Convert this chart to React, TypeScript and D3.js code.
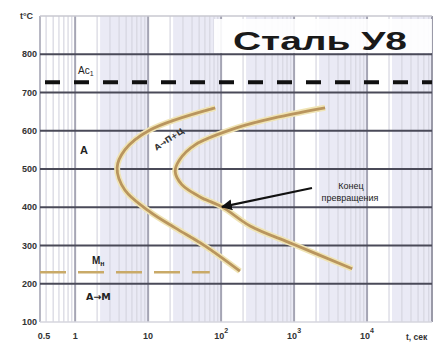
import React from 'react';
import * as d3 from 'd3';

// temperature axis (°C) and time axis (s, log)
const tempTicks = [100, 200, 300, 400, 500, 600, 700, 800];
const timeLabels = [
  { t: 0.5, base: '0.5', exp: '' },
  { t: 1, base: '1', exp: '' },
  { t: 10, base: '10', exp: '' },
  { t: 100, base: '10', exp: '2' },
  { t: 1000, base: '10', exp: '3' },
  { t: 10000, base: '10', exp: '4' },
];
const decades = [1, 10, 100, 1000, 10000];

// start of transformation curve
const startTime = [83, 10.6, 4.8, 3.76, 4.8, 10.6, 23.5, 60, 181];
const startTemp = [660, 602, 550, 503, 445, 388, 346, 299, 233];

// end of transformation curve
const endTime = [2660, 646, 166, 44, 27, 23.5, 29, 51.5, 103, 250, 960, 6260];
const endTemp = [660, 637, 608, 563, 524, 493, 459, 427, 401, 351, 304, 239];

const ac1 = 727;
const mn = 230;
const mnEnd = 70;

const W = 440;
const H = 346;
const left = 40;
const right = 432;

const x = d3.scaleLog().domain([0.33, 77600]).range([left, right]);
const y = d3.scaleLinear().domain([100, 900]).range([322, 16]);

const curve = d3
  .line<[number, number]>()
  .x((d) => x(d[0]))
  .y((d) => y(d[1]))
  .curve(d3.curveCatmullRom.alpha(0.5));

const startPts = startTime.map((t, i) => [t, startTemp[i]] as [number, number]);
const endPts = endTime.map((t, i) => [t, endTemp[i]] as [number, number]);

const font = 'Liberation Sans, Arial, sans-serif';
const arrowFont = 'DejaVu Sans, sans-serif';

export default function App() {
  const minors: number[] = [];
  [0.1, 1, 10, 100, 1000, 10000].forEach((d) => {
    for (let k = 2; k <= 9; k++) {
      const v = d * k;
      if (v > 0.33 && v < 77600) minors.push(v);
    }
  });

  return (
    <svg
      width={W}
      height={H}
      style={{ position: 'absolute', left: 0, top: 0, background: '#fff' }}
    >
      {/* lavender bands */}
      {decades.map((d) => (
        <rect
          key={'b' + d}
          x={x(d * 2.2)}
          y={y(900)}
          width={Math.min(x(d * 10), right) - x(d * 2.2)}
          height={y(100) - y(900)}
          fill="#eaeaf5"
        />
      ))}
      {/* minor vertical grid */}
      {minors.map((v) => (
        <line
          key={'m' + v}
          x1={x(v)}
          x2={x(v)}
          y1={y(900)}
          y2={y(100)}
          stroke="#d6d6e0"
          strokeWidth={1.2}
        />
      ))}
      {/* major vertical grid */}
      {decades.map((d) => (
        <line
          key={'M' + d}
          x1={x(d)}
          x2={x(d)}
          y1={y(900)}
          y2={y(100)}
          stroke="#a5a5b4"
          strokeWidth={2}
        />
      ))}
      <line x1={left} x2={left} y1={y(900)} y2={y(100)} stroke="#b8b8c4" strokeWidth={2} />
      <line x1={right} x2={right} y1={y(900)} y2={y(100)} stroke="#9a9aa8" strokeWidth={2} />
      <line x1={left} x2={right} y1={y(900)} y2={y(900)} stroke="#c8c8d0" strokeWidth={1.5} />
      <line x1={left} x2={right} y1={y(100)} y2={y(100)} stroke="#d6d6de" strokeWidth={1.5} />

      {/* title box */}
      <rect x={214} y={19} width={218} height={34} fill="#fff" opacity={0.9} />
      <text
        x={233}
        y={50}
        fontFamily={font}
        fontWeight="bold"
        fontSize={25}
        fill="#1a1a1a"
        textLength={174}
        lengthAdjust="spacingAndGlyphs"
      >
        Сталь У8
      </text>

      {/* horizontal grid */}
      {tempTicks
        .filter((t) => t > 100)
        .map((t) => (
          <line
            key={'h' + t}
            x1={left}
            x2={right}
            y1={y(t)}
            y2={y(t)}
            stroke="#4a4a58"
            strokeWidth={2}
          />
        ))}

      {/* Ac1 */}
      <line
        x1={left + 5}
        x2={right}
        y1={y(ac1)}
        y2={y(ac1)}
        stroke="#111"
        strokeWidth={4}
        strokeDasharray="15 14"
      />
      <text x={78} y={74} fontFamily={font} fontSize={10} fill="#222">
        Ac<tspan fontSize={7} dy={2}>1</tspan>
      </text>

      {/* Mn */}
      <line
        x1={left}
        x2={x(mnEnd)}
        y1={y(mn)}
        y2={y(mn)}
        stroke="#c9aa68"
        strokeWidth={2.5}
        strokeDasharray="26 12"
      />

      {/* curves */}
      <path d={curve(startPts) || ''} fill="none" stroke="#f0e4b4" strokeWidth={6} />
      <path d={curve(endPts) || ''} fill="none" stroke="#f0e4b4" strokeWidth={6} />
      <path d={curve(startPts) || ''} fill="none" stroke="#b9955e" strokeWidth={2.8} />
      <path d={curve(endPts) || ''} fill="none" stroke="#b9955e" strokeWidth={2.8} />

      <text
        x={0}
        y={0}
        transform={`translate(${x(13)},${y(548)}) rotate(-33)`}
        fontFamily={arrowFont}
        fontSize={8}
        fontWeight="bold"
        fill="#333"
      >
        А→П+Ц
      </text>

      {/* labels */}
      <text x={80} y={154} fontFamily={font} fontSize={11} fontWeight="bold" fill="#222">
        А
      </text>
      <text x={92} y={264} fontFamily={font} fontSize={10} fontWeight="bold" fill="#222">
        M<tspan fontSize={7} dy={2}>н</tspan>
      </text>
      <text x={86} y={300} fontFamily={arrowFont} fontSize={9.5} fontWeight="bold" fill="#222">
        А→М
      </text>

      {/* end annotation */}
      <defs>
        <marker id="arr" viewBox="0 0 10 10" refX={9} refY={5} markerWidth={5} markerHeight={5} orient="auto">
          <path d="M0,0 L10,5 L0,10 z" fill="#111" />
        </marker>
      </defs>
      <line
        x1={312}
        y1={188}
        x2={x(103)}
        y2={y(401)}
        stroke="#111"
        strokeWidth={2.2}
        markerEnd="url(#arr)"
      />
      <text x={351} y={189} textAnchor="middle" fontFamily={font} fontSize={9} fill="#222">
        Конец
      </text>
      <text x={350} y={201} textAnchor="middle" fontFamily={font} fontSize={9} fill="#222">
        превращения
      </text>

      {/* y axis labels */}
      <text x={20} y={19} fontFamily={font} fontSize={9} fontWeight="bold" fill="#333">
        t°C
      </text>
      {tempTicks.map((t) => (
        <text
          key={'yl' + t}
          x={37}
          y={y(t) + 3}
          textAnchor="end"
          fontFamily={font}
          fontSize={9}
          fontWeight="bold"
          fill="#333"
        >
          {t}
        </text>
      ))}

      {/* x axis labels */}
      {timeLabels.map((l) => (
        <text
          key={'xl' + l.t}
          x={l.t === 0.5 ? left + 4 : x(l.t)}
          y={339}
          textAnchor="middle"
          fontFamily={font}
          fontSize={9}
          fontWeight="bold"
          fill="#333"
        >
          {l.base}
          {l.exp && (
            <tspan fontSize={7} dy={-6}>
              {l.exp}
            </tspan>
          )}
        </text>
      ))}
      <text x={406} y={340} fontFamily={font} fontSize={8.5} fontWeight="bold" fill="#333">
        t, сек
      </text>
    </svg>
  );
}
